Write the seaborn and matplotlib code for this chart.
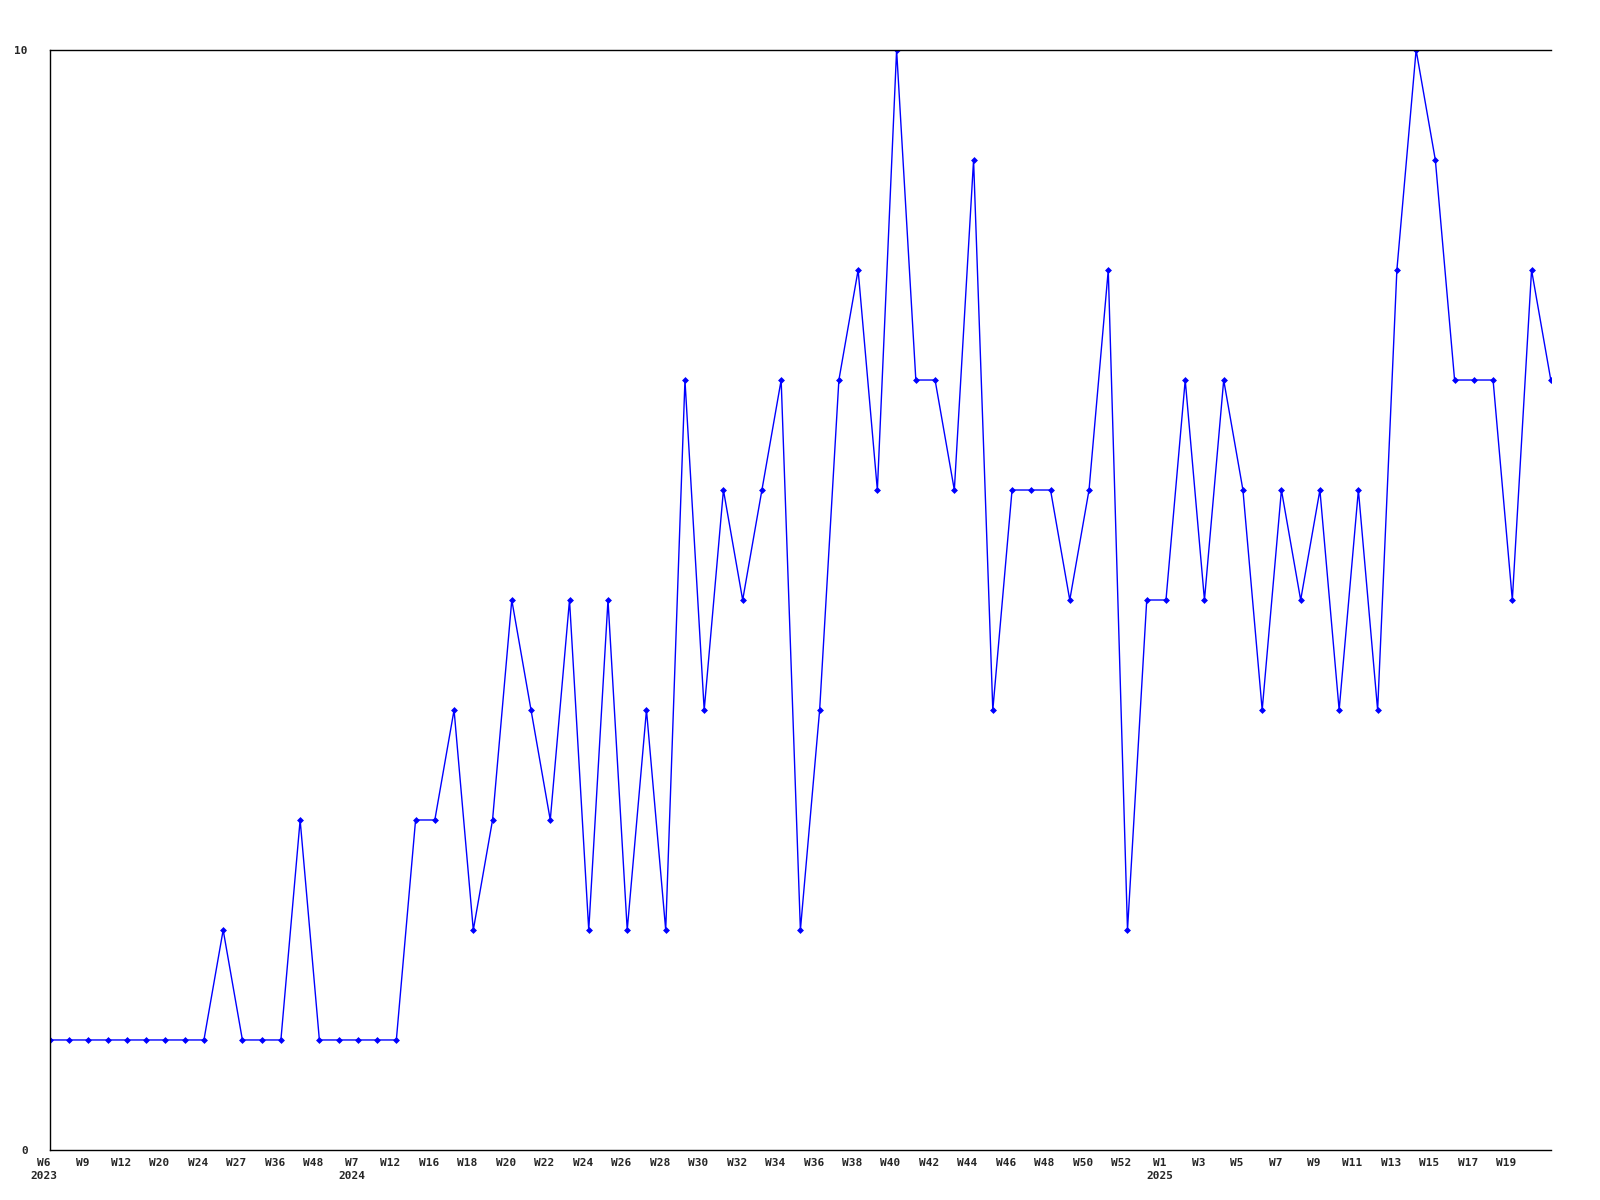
import numpy as np
import pandas as pd
import seaborn as sns
import matplotlib.pyplot as plt
import matplotlib.transforms as mtransforms

# weekly values, one per point (79 weeks shown)
values = [1, 1, 1, 1, 1, 1, 1, 1, 1, 2,
          1, 1, 1, 3, 1, 1, 1, 1, 1, 3,
          3, 4, 2, 3, 5, 4, 3, 5, 2, 5,
          2, 4, 2, 7, 4, 6, 5, 6, 7, 2,
          4, 7, 8, 6, 10, 7, 7, 6, 9, 4,
          6, 6, 6, 5, 6, 8, 2, 5, 5, 7,
          5, 7, 6, 4, 6, 5, 6, 4, 6, 4,
          8, 10, 9, 7, 7, 7, 5, 8, 7]

# labels shown on every other point
tick_labels = ["W6\n2023", "W9", "W12", "W20", "W24", "W27", "W36", "W48",
               "W7\n2024", "W12", "W16", "W18", "W20", "W22", "W24", "W26",
               "W28", "W30", "W32", "W34", "W36", "W38", "W40", "W42",
               "W44", "W46", "W48", "W50", "W52", "W1\n2025", "W3", "W5",
               "W7", "W9", "W11", "W13", "W15", "W17", "W19"]

df = pd.DataFrame({"idx": np.arange(len(values)), "value": values})

sns.set_style("white")
plt.rcParams['font.family'] = ['DejaVu Sans Mono']

fig = plt.figure(figsize=(16, 12), dpi=100)
ax = fig.add_axes([0.03125, 0.0417, 0.938, 0.9166])

sns.lineplot(data=df, x="idx", y="value", ax=ax, color="#0000ff",
             linewidth=1.0, marker="D", markersize=3,
             markeredgecolor="#0000ff", markerfacecolor="#0000ff",
             markeredgewidth=0.5)

ax.set_xlim(0, len(values) - 1)
ax.set_ylim(0, 10)
ax.set_xticks(np.arange(0, 2 * len(tick_labels), 2))
ax.set_xticklabels(tick_labels, fontsize=8, fontweight="bold", linespacing=1.4)
ax.set_yticks([0, 10])
ax.set_yticklabels(["0", "10"], fontsize=8, fontweight="bold")
ax.tick_params(axis="both", length=0, pad=6)
ax.tick_params(axis="y", pad=16)
ax.set_xlabel("")
ax.set_ylabel("")

# shift week labels slightly left like the original
offset = mtransforms.ScaledTranslation(-6 / 100, 0, fig.dpi_scale_trans)
for lbl in ax.get_xticklabels():
    lbl.set_transform(lbl.get_transform() + offset)

for side in ["left", "bottom", "top"]:
    ax.spines[side].set_color("black")
    ax.spines[side].set_linewidth(1.0)
ax.spines["right"].set_visible(False)

fig.savefig("out.png", dpi=100)
